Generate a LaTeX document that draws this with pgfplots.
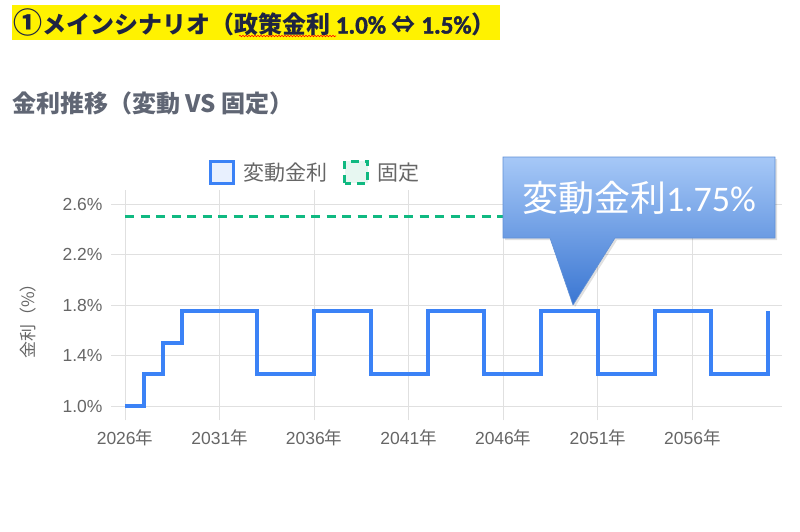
\documentclass[border=0pt]{standalone}
\usepackage{pgfplots}
\pgfplotsset{compat=1.18}
\usepackage{fontspec}
\usetikzlibrary{decorations.pathmorphing}
\setmainfont{Liberation Sans}
\newfontfamily\cjk{Noto Sans CJK JP}
\newfontfamily\carl{Carlito}
\newfontfamily\carlb{Carlito}[UprightFont={* Bold}, FakeBold=1.6]
\definecolor{varblue}{RGB}{59,130,246}
\definecolor{varfill}{RGB}{232,240,254}
\definecolor{fixgreen}{RGB}{16,185,129}
\definecolor{fixfill}{RGB}{231,247,241}
\definecolor{gridc}{RGB}{224,224,224}
\definecolor{tickc}{RGB}{102,102,102}
\definecolor{titlec}{RGB}{30,36,66}
\definecolor{subc}{RGB}{96,102,116}
\definecolor{calltop}{RGB}{166,200,247}
\definecolor{callbot}{RGB}{58,118,210}
\definecolor{callline}{RGB}{96,144,214}
\pgfplotstableread{
year rate
2026 1.00
2027 1.25
2028 1.50
2029 1.75
2030 1.75
2031 1.75
2032 1.75
2033 1.25
2034 1.25
2035 1.25
2036 1.75
2037 1.75
2038 1.75
2039 1.25
2040 1.25
2041 1.25
2042 1.75
2043 1.75
2044 1.75
2045 1.25
2046 1.25
2047 1.25
2048 1.75
2049 1.75
2050 1.75
2051 1.25
2052 1.25
2053 1.25
2054 1.75
2055 1.75
2056 1.75
2057 1.25
2058 1.25
2059 1.25
2060 1.75
}\variable
\pgfplotstableread{
year rate
2026 2.50
2060 2.50
}\fixed
\begin{document}
\begin{tikzpicture}
\path[use as bounding box, fill=white] (0pt,0pt) rectangle (800pt,-531pt);
% title
\fill[yellow] (12pt,-5pt) rectangle (500pt,-40pt);
\node[anchor=west, inner sep=0pt, text=titlec, font=\fontsize{24}{28}\selectfont\bfseries] at (13pt,-22.5pt)
  {{\cjk\fontsize{29}{30}\selectfont ①}{\cjk メインシナリオ（政策金利}{\carlb\fontsize{25}{28}\selectfont\ 1.0\%\ }{\cjk ⇔}{\carlb\fontsize{25}{28}\selectfont\ 1.5\%}{\cjk ）}};
\draw[red, line width=0.6pt, decorate, decoration={snake, amplitude=0.7pt, segment length=3pt}] (239pt,-36pt) -- (336pt,-36pt);
% subtitle
\node[anchor=west, inner sep=0pt, text=subc, font=\cjk\fontsize{24}{28}\selectfont\bfseries] at (12pt,-103pt)
  {金利推移（変動\ VS\ 固定）};
\begin{axis}[
  at={(125pt,-406pt)}, anchor=south west,
  scale only axis, width=643pt, height=202pt,
  xmin=2026, xmax=2060, ymin=1.0, ymax=2.6,
  xtick={2026,2031,2036,2041,2046,2051,2056},
  xticklabels={2026{\cjk 年},2031{\cjk 年},2036{\cjk 年},2041{\cjk 年},2046{\cjk 年},2051{\cjk 年},2056{\cjk 年}},
  ytick={1.0,1.4,1.8,2.2,2.6},
  yticklabels={1.0\%,1.4\%,1.8\%,2.2\%,2.6\%},
  grid=major, grid style={draw=gridc, line width=0.8pt},
  axis line style={draw=none},
  tick align=outside, major tick length=14pt,
  tick style={draw=gridc, line width=0.8pt},
  ticklabel style={font=\fontsize{17.5}{20}\selectfont, text=tickc},
  xticklabel style={yshift=-6pt},
  yticklabel style={xshift=-5pt},
  ylabel={\cjk 金利（\%）},
  every axis y label/.style={at={(rel axis cs:-0.151,0.44)}, rotate=90, anchor=center,
    font=\fontsize{17}{20}\selectfont, text=tickc},
  legend style={at={(rel axis cs:0.296,1.158)}, anchor=center, draw=none, fill=none,
    font=\cjk\fontsize{21}{25}\selectfont, text=tickc, legend columns=2,
    /tikz/every even column/.append style={column sep=14pt}},
  legend cell align=left,
  clip=false,
]
\addplot[const plot, draw=varblue, line width=4pt, line join=miter,
  legend image code/.code={\draw[draw=varblue, fill=varfill, line width=3pt] (0pt,-11pt) rectangle (23pt,11pt);
    \path[draw=none, fill=none] (0pt,0pt) -- (31pt,0pt);}]
  table[x=year, y=rate] {\variable};
\addlegendentry{変動金利}
\addplot[draw=fixgreen, line width=3pt, dash pattern=on 9pt off 6.5pt,
  legend image code/.code={\draw[draw=fixgreen, fill=fixfill, line width=3pt, dash pattern=on 8pt off 6pt] (0pt,-11pt) rectangle (23pt,11pt);
    \path[draw=none, fill=none] (0pt,0pt) -- (31pt,0pt);}]
  table[x=year, y=rate] {\fixed};
\addlegendentry{固定}
\end{axis}
% callout
\fill[black, opacity=0.12] (505pt,-159pt) -- (777pt,-159pt) -- (777pt,-240pt) -- (617pt,-240pt) -- (575pt,-307pt) -- (552pt,-240pt) -- (505pt,-240pt) -- cycle;
\shade[top color=calltop, bottom color=callbot, draw=callline, line width=0.6pt]
  (503pt,-157pt) -- (775pt,-157pt) -- (775pt,-238pt) -- (615pt,-238pt) -- (573pt,-305pt) -- (550pt,-238pt) -- (503pt,-238pt) -- cycle;
\node[text=white, inner sep=0pt, font=\fontsize{36}{40}\selectfont] at (639pt,-198pt) {{\cjk 変動金利}{\carl 1.75\%}};
\end{tikzpicture}
\end{document}
